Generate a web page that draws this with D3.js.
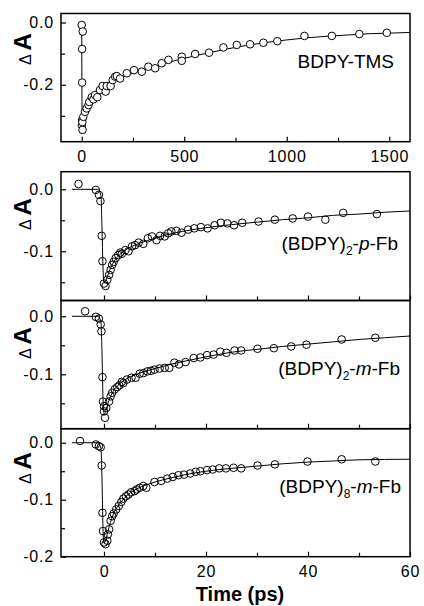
<!DOCTYPE html>
<html>
<head>
<meta charset="utf-8">
<script src="https://cdn.jsdelivr.net/npm/d3@7"></script>
<style>
  body { margin: 0; background: #fff; }
  svg text { font-family: "Liberation Sans", Arial, sans-serif; fill: #000; }
</style>
</head>
<body>
<div id="chart"></div>
<script>
// ---- data (time in ps, delta A) ----
const tmsPoints = [
  [0, -0.008], [5, -0.029], [2, -0.085], [2, -0.193],
  [2, -0.313], [1, -0.33], [4, -0.345], [3, -0.32], [8, -0.303],
  [16, -0.287], [24, -0.276], [33, -0.265], [37, -0.255], [49, -0.24],
  [57, -0.247], [65, -0.233], [76, -0.24], [89, -0.217], [102, -0.204],
  [117, -0.222], [122, -0.204], [141, -0.204], [151, -0.185], [163, -0.174],
  [171, -0.172], [187, -0.18], [220, -0.163], [255, -0.153], [293, -0.158],
  [325, -0.142], [358, -0.147], [390, -0.131], [423, -0.12], [488, -0.11],
  [488, -0.123], [553, -0.101], [621, -0.097], [691, -0.08], [756, -0.072],
  [821, -0.07], [886, -0.065], [954, -0.06], [1086, -0.043], [1220, -0.043],
  [1354, -0.037], [1488, -0.033]
];
const tmsFit = [
  [0, -0.005], [1, -0.2], [2, -0.33], [6, -0.3], [15, -0.282], [30, -0.263],
  [60, -0.24], [100, -0.216], [150, -0.193], [200, -0.176], [300, -0.152],
  [400, -0.132], [500, -0.115], [600, -0.1], [700, -0.086], [800, -0.074],
  [900, -0.064], [1000, -0.056], [1100, -0.049], [1200, -0.044],
  [1300, -0.04], [1400, -0.036], [1500, -0.034], [1600, -0.032]
];

const pFbPoints = [
  [-5, 0.0086], [-1.6, -0.001], [-1, -0.009], [-0.7, -0.019], [-0.45, -0.075],
  [-0.3, -0.116], [0, -0.152], [0.3, -0.156], [0.65, -0.146], [1, -0.138],
  [1.3, -0.13], [1.6, -0.122], [1.9, -0.117], [2.3, -0.111], [2.8, -0.106],
  [3.2, -0.102], [3.5, -0.104], [4.2, -0.098], [4.8, -0.1], [5.5, -0.092],
  [6.1, -0.09], [6.8, -0.086], [7.7, -0.088], [8.6, -0.079], [9.4, -0.076],
  [10.3, -0.082], [11, -0.075], [11.9, -0.076], [12.6, -0.071], [13.2, -0.068],
  [14.2, -0.067], [15.2, -0.07], [16.5, -0.065], [17.7, -0.063], [19, -0.061],
  [20.3, -0.063], [21.7, -0.058], [22.9, -0.054], [24.2, -0.055], [25.5, -0.058],
  [27.1, -0.054], [30.3, -0.052], [33.5, -0.049], [37, -0.047], [40, -0.044],
  [43.4, -0.049], [46.9, -0.038], [53.5, -0.04]
];
const pFbFit = [
  [-6.3, 0], [-1.2, 0], [-0.6, -0.01], [-0.4, -0.06], [-0.2, -0.125], [0, -0.15],
  [0.3, -0.148], [0.7, -0.14], [1, -0.133], [1.5, -0.123], [2, -0.116],
  [3, -0.106], [4, -0.099], [5, -0.094], [7, -0.087], [10, -0.079],
  [13, -0.072], [16, -0.067], [20, -0.062], [25, -0.057], [30, -0.053],
  [35, -0.049], [40, -0.046], [45, -0.042], [50, -0.04], [55, -0.037], [60, -0.035]
];

const m2Points = [
  [-3.7, 0.0086], [-1.6, -0.001], [-1, -0.004], [-0.65, -0.014], [-0.5, -0.026],
  [-0.3, -0.105], [-0.2, -0.147], [0, -0.164], [0, -0.155], [0.2, -0.175],
  [0.45, -0.158], [1, -0.147], [1.3, -0.138], [1.6, -0.132], [2.1, -0.126],
  [2.6, -0.122], [3, -0.119], [3.5, -0.113], [3.8, -0.115], [4.5, -0.109],
  [5.4, -0.106], [6.2, -0.106], [7, -0.099], [7.7, -0.098], [8.5, -0.095],
  [9.2, -0.094], [9.9, -0.092], [10.9, -0.09], [11.9, -0.089], [12.8, -0.089],
  [13.8, -0.08], [14.7, -0.083], [16, -0.079], [17.6, -0.072], [18.9, -0.071],
  [20.2, -0.067], [21.5, -0.066], [22.8, -0.061], [24, -0.063], [25.6, -0.059],
  [26.9, -0.059], [30.1, -0.056], [33.3, -0.055], [36.7, -0.052], [39.7, -0.049],
  [46.6, -0.04], [53.2, -0.037]
];
const m2Fit = [
  [-6.3, 0], [-1.2, 0], [-0.6, -0.01], [-0.4, -0.06], [-0.2, -0.14], [0, -0.168],
  [0.3, -0.165], [0.7, -0.152], [1.2, -0.14], [2, -0.127], [3, -0.117],
  [4, -0.11], [5, -0.105], [7, -0.098], [10, -0.09], [13, -0.083], [16, -0.077],
  [20, -0.07], [25, -0.062], [30, -0.057], [35, -0.052], [40, -0.048],
  [45, -0.044], [50, -0.04], [55, -0.037], [60, -0.034]
];

const m8Points = [
  [-4.7, 0.003], [-1.6, -0.003], [-1, -0.006], [-0.65, -0.008], [-0.45, -0.04],
  [-0.3, -0.123], [-0.2, -0.155], [0, -0.175], [0.3, -0.178], [0.65, -0.172],
  [0.75, -0.161], [1, -0.152], [1.3, -0.137], [1.6, -0.129], [1.9, -0.124],
  [2.4, -0.117], [2.9, -0.111], [3.4, -0.104], [3.8, -0.098], [4.3, -0.094],
  [4.8, -0.091], [5.3, -0.087], [6, -0.085], [6.4, -0.082], [7, -0.079],
  [7.7, -0.076], [8.3, -0.079], [9.9, -0.069], [11.2, -0.067], [12.4, -0.063],
  [13.5, -0.06], [14.6, -0.057], [15.7, -0.056], [16.9, -0.054], [18, -0.051],
  [18.9, -0.05], [20.2, -0.048], [21.3, -0.047], [22.6, -0.045], [23.9, -0.045],
  [25.4, -0.044], [26.9, -0.045], [30.1, -0.04], [33.5, -0.038], [39.9, -0.033],
  [46.6, -0.029], [53.2, -0.033]
];
const m8Fit = [
  [-6.3, 0], [-1.2, 0], [-0.6, -0.01], [-0.4, -0.06], [-0.2, -0.15], [0, -0.176],
  [0.3, -0.172], [0.7, -0.158], [1, -0.148], [1.5, -0.133], [2, -0.122],
  [3, -0.108], [4, -0.097], [5, -0.089], [6, -0.083], [8, -0.075], [10, -0.069],
  [13, -0.062], [16, -0.056], [20, -0.05], [25, -0.045], [30, -0.041],
  [35, -0.037], [40, -0.034], [45, -0.032], [50, -0.03], [60, -0.029]
];

// tick values
const tmsMajorTicks = [0, 500, 1000, 1500];
const tmsMinorTicks = [250, 750, 1250];
const psMajorTicks = [0, 20, 40, 60];
const psMinorTicks = [10, 30, 50];

// panel labels: [main, subscript, italic part]
const labelTMS = ["BDPY-TMS"];
const labelP2 = ["(BDPY)", "2", "p"];
const labelM2 = ["(BDPY)", "2", "m"];
const labelM8 = ["(BDPY)", "8", "m"];

// ---- layout ----
const width = 424, height = 606;
const left = 61, right = 410;

const panels = [
  { points: tmsPoints, fit: tmsFit, label: labelTMS, top: 13.5, bottom: 141.7,
    xDomain: [-101, 1601], yDomain: [-0.383, 0.029],
    xMajor: tmsMajorTicks, xMinor: tmsMinorTicks, yMajor: [0, -0.2], yMinor: [-0.1, -0.3],
    showX: true, fill: "#fff", labelY: 68, labelX: 394, axisLabelY: 49 },
  { points: pFbPoints, fit: pFbFit, label: labelP2, top: 171.7, bottom: 300.5,
    xDomain: [-8.43, 60], yDomain: [-0.1794, 0.0284],
    xMajor: psMajorTicks, xMinor: psMinorTicks, yMajor: [0, -0.1], yMinor: [-0.05, -0.15],
    showX: false, fill: "none", labelY: 250, labelX: 398, axisLabelY: 214 },
  { points: m2Points, fit: m2Fit, label: labelM2, top: 300.5, bottom: 428.7,
    xDomain: [-8.43, 60], yDomain: [-0.1938, 0.0272],
    xMajor: psMajorTicks, xMinor: psMinorTicks, yMajor: [0, -0.1], yMinor: [-0.05, -0.15],
    showX: false, fill: "none", labelY: 375, labelX: 400, axisLabelY: 343 },
  { points: m8Points, fit: m8Fit, label: labelM8, top: 428.7, bottom: 556.7,
    xDomain: [-8.43, 60], yDomain: [-0.2, 0.0246],
    xMajor: psMajorTicks, xMinor: psMinorTicks, yMajor: [0, -0.1, -0.2], yMinor: [-0.05, -0.15],
    showX: true, fill: "none", labelY: 493, labelX: 401, axisLabelY: 468 }
];

const svg = d3.select("#chart")
  .append("svg")
  .attr("width", width)
  .attr("height", height);

const yFormat = d => d === 0 ? "0.0" : d.toFixed(1);

panels.forEach(p => {
  const xScale = d3.scaleLinear().domain(p.xDomain).range([left, right]);
  const yScale = d3.scaleLinear().domain(p.yDomain).range([p.bottom, p.top]);

  const g = svg.append("g");

  // clip so lines stay inside the frame
  const clipId = "clip" + Math.round(p.top);
  svg.append("clipPath").attr("id", clipId)
    .append("rect")
    .attr("x", left).attr("y", p.top)
    .attr("width", right - left).attr("height", p.bottom - p.top);

  // fit line
  const line = d3.line()
    .x(d => xScale(d[0]))
    .y(d => yScale(d[1]))
    .curve(d3.curveMonotoneX);

  g.append("path")
    .datum(p.fit)
    .attr("clip-path", `url(#${clipId})`)
    .attr("d", line)
    .attr("fill", "none")
    .attr("stroke", "#000")
    .attr("stroke-width", 1);

  // data circles
  g.selectAll("circle")
    .data(p.points)
    .join("circle")
      .attr("cx", d => xScale(d[0]))
      .attr("cy", d => yScale(d[1]))
      .attr("r", 3.8)
      .attr("fill", p.fill)
      .attr("stroke", "#000")
      .attr("stroke-width", 1);

  // axes (ticks inward)
  const xAxis = d3.axisBottom(xScale)
    .tickValues(p.xMajor)
    .tickSizeInner(-5)
    .tickSizeOuter(0)
    .tickPadding(p.showX ? 9 : 0)
    .tickFormat(p.showX ? d3.format("d") : "");
  g.append("g")
    .attr("transform", `translate(0, ${p.bottom})`)
    .call(xAxis);

  g.append("g")
    .attr("transform", `translate(0, ${p.bottom})`)
    .call(d3.axisBottom(xScale).tickValues(p.xMinor).tickSizeInner(-4).tickSizeOuter(0).tickFormat(""));

  const yAxis = d3.axisLeft(yScale)
    .tickValues(p.yMajor)
    .tickSizeInner(-5)
    .tickSizeOuter(0)
    .tickPadding(7)
    .tickFormat(yFormat);
  g.append("g")
    .attr("transform", `translate(${left}, 0)`)
    .call(yAxis);

  g.append("g")
    .attr("transform", `translate(${left}, 0)`)
    .call(d3.axisLeft(yScale).tickValues(p.yMinor).tickSizeInner(-4).tickSizeOuter(0).tickFormat(""));

  g.selectAll(".domain").remove();
  g.selectAll(".tick line").attr("stroke", "#000").attr("stroke-width", 1.2);
  g.selectAll(".tick text")
    .style("font-family", '"Liberation Sans", Arial, sans-serif')
    .style("font-size", "16px")
    .style("letter-spacing", "0.8px")
    .attr("fill", "#000");

  // frame
  g.append("rect")
    .attr("x", left).attr("y", p.top)
    .attr("width", right - left).attr("height", p.bottom - p.top)
    .attr("fill", "none")
    .attr("stroke", "#000")
    .attr("stroke-width", 1.5);

  // y axis title: delta A
  const yTitle = g.append("text")
    .attr("transform", `translate(31, ${p.axisLabelY}) rotate(-90)`)
    .attr("text-anchor", "middle");
  yTitle.append("tspan").style("font-size", "16px").text("\u0394");
  yTitle.append("tspan").style("font-size", "14px").text(" ");
  yTitle.append("tspan").style("font-size", "24px").style("font-weight", "bold").text("A");

  // panel label
  const lab = g.append("text")
    .attr("x", p.labelX)
    .attr("y", p.labelY)
    .attr("text-anchor", "end")
    .style("font-size", "19px");
  lab.append("tspan").text(p.label[0]);
  if (p.label.length > 1) {
    lab.append("tspan").attr("dy", 5).style("font-size", "12px").text(p.label[1]);
    lab.append("tspan").attr("dy", -5).text("-");
    lab.append("tspan").style("font-style", "italic").text(p.label[2]);
    lab.append("tspan").text("-Fb");
  }
});

// x axis title
svg.append("text")
  .attr("x", 240)
  .attr("y", 601)
  .attr("text-anchor", "middle")
  .style("font-size", "20px")
  .style("font-weight", "bold")
  .text("Time (ps)");
</script>
</body>
</html>
